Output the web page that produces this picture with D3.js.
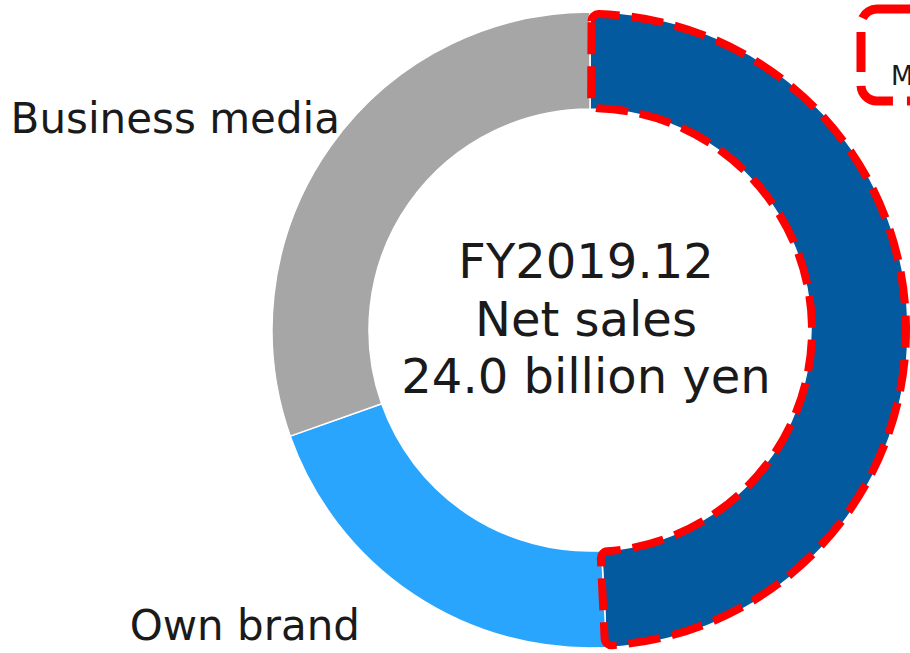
<!DOCTYPE html>
<html>
<head>
<meta charset="utf-8">
<script src="https://cdn.jsdelivr.net/npm/d3@7"></script>
<style>
  html, body { margin: 0; padding: 0; background: #fff; }
  svg { display: block; font-family: "DejaVu Sans", Verdana, sans-serif; }
</style>
</head>
<body>
<svg id="chart" width="910" height="653"></svg>
<script>
// Net sales by segment, FY2019.12 (billion yen)
const segments = ["Media", "Own brand", "Business media"];
const sales = [11.8, 4.9, 7.3];
const colors = ["#045a9e", "#2aa5fe", "#a6a6a6"];
const centerLines = ["FY2019.12", "Net sales", "24.0 billion yen"];

const svg = d3.select("#chart");
const cx = 590, cy = 330;
const rOuter = 318, rInner = 221;

const pie = d3.pie().sort(null).value(d => d);
const arcs = pie(sales);
const arc = d3.arc().innerRadius(rInner).outerRadius(rOuter);

const g = svg.append("g").attr("transform", `translate(${cx},${cy})`);

g.selectAll("path.seg")
  .data(arcs)
  .join("path")
  .attr("class", "seg")
  .attr("d", arc)
  .attr("fill", (d, i) => colors[i])
  .attr("stroke", "#fff")
  .attr("stroke-width", 1.5);

// dashed highlight around the Media segment
const hl = arcs[0];
const hlArc = d3.arc()
  .innerRadius(rInner + 1)
  .outerRadius(rOuter - 2)
  .cornerRadius(7);
g.append("path")
  .attr("d", hlArc({startAngle: hl.startAngle + 0.005, endAngle: hl.endAngle + 0.005}))
  .attr("fill", "none")
  .attr("stroke", "#ff0000")
  .attr("stroke-width", 8)
  .attr("stroke-dasharray", "32 12");

// centre caption
g.append("text")
  .attr("text-anchor", "middle")
  .attr("font-size", 48)
  .attr("fill", "#1a1a1a")
  .selectAll("tspan")
  .data(centerLines)
  .join("tspan")
  .attr("x", -4)
  .attr("y", (d, i) => -52 + i * 57.5)
  .text(d => d);

// segment labels
const labelPos = [null, {x: 360, y: 640}, {x: 340, y: 133}];
segments.forEach((s, i) => {
  if (!labelPos[i]) return;
  svg.append("text")
    .attr("x", labelPos[i].x)
    .attr("y", labelPos[i].y)
    .attr("text-anchor", "end")
    .attr("font-size", 42)
    .attr("fill", "#1a1a1a")
    .text(s);
});

// callout box for the Media segment (runs off the right edge)
svg.append("rect")
  .attr("x", 861)
  .attr("y", 9)
  .attr("width", 120)
  .attr("height", 92)
  .attr("rx", 16)
  .attr("fill", "none")
  .attr("stroke", "#ff0000")
  .attr("stroke-width", 9)
  .attr("stroke-dasharray", "40 14");
svg.append("text")
  .attr("x", 891)
  .attr("y", 85)
  .attr("font-size", 26)
  .attr("fill", "#1a1a1a")
  .text(segments[0]);
</script>
</body>
</html>
